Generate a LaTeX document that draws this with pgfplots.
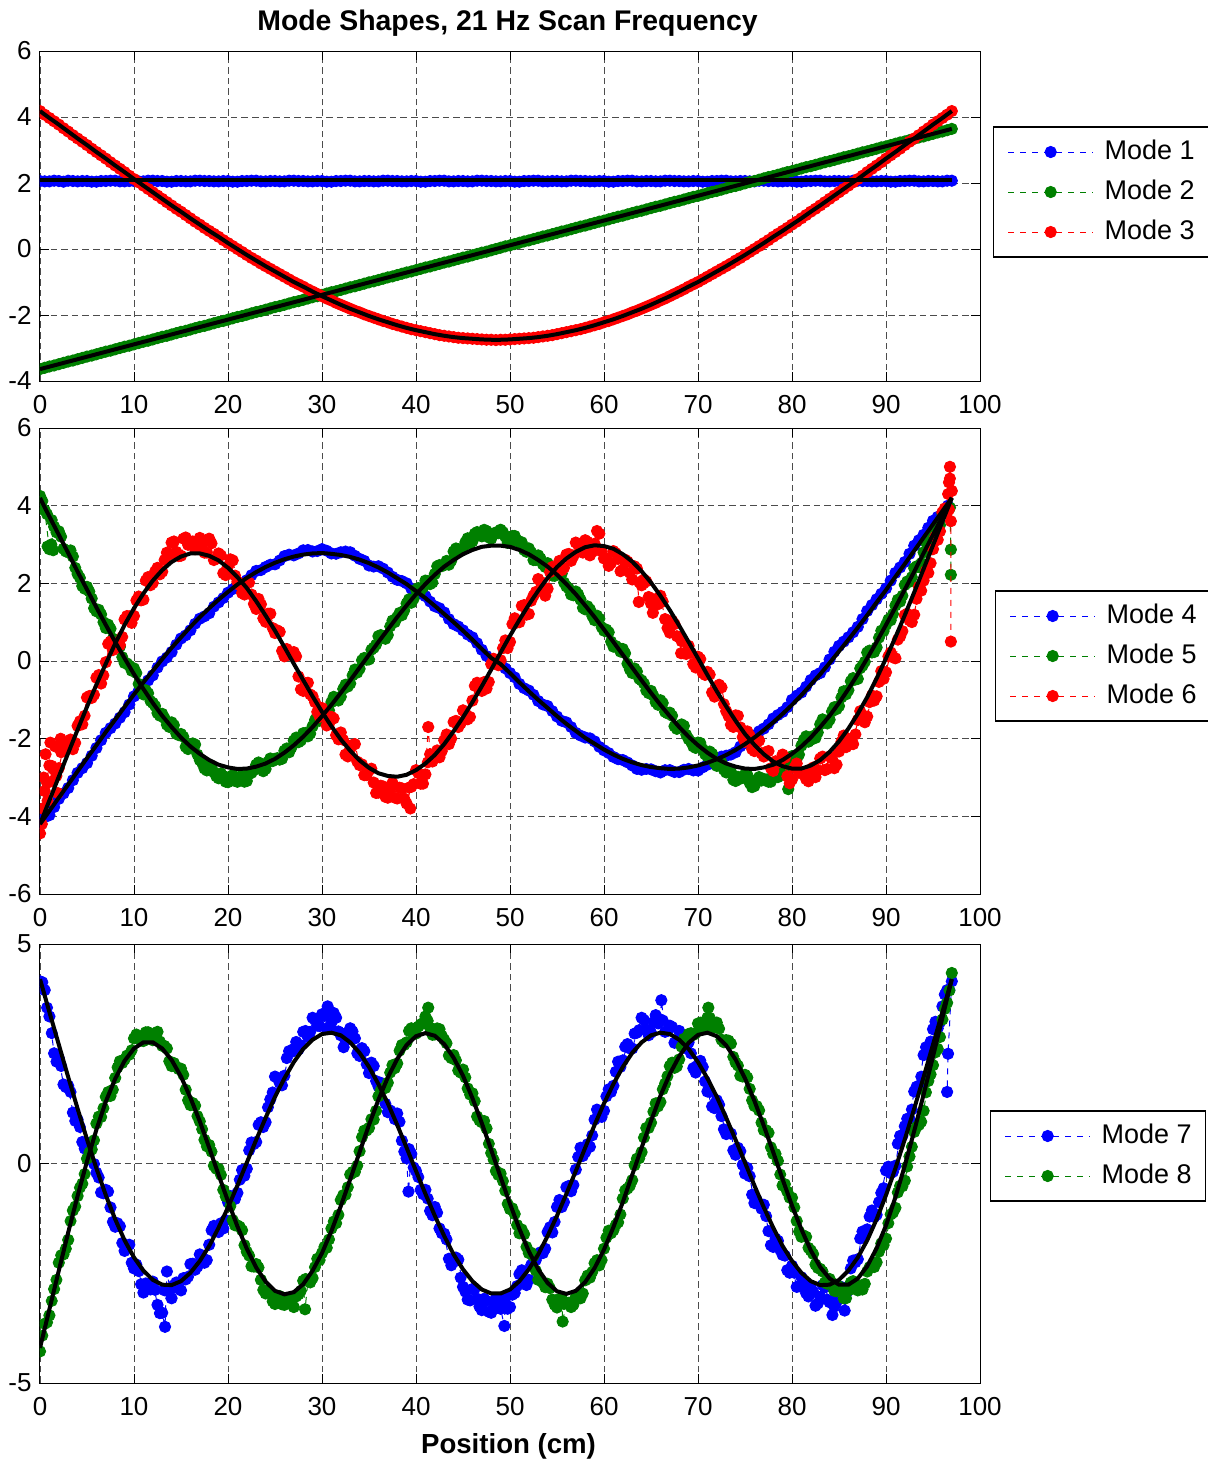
\documentclass[border=0pt]{standalone}
\usepackage{fontspec}
\setmainfont{Liberation Sans}
\usepackage{pgfplots}
\pgfplotsset{compat=1.18}
\definecolor{mblue}{rgb}{0,0,1}
\definecolor{mgreen}{rgb}{0,0.5,0}
\definecolor{mred}{rgb}{1,0,0}
\newcommand{\tickfont}{\fontsize{13}{15}\selectfont}
\newcommand{\legfont}{\fontsize{13.5}{16}\selectfont}
\pgfplotsset{
  mstyle/.style={
    scale only axis, width=470pt,
    xmin=0, xmax=100,
    xtick={0,10,...,100},
    xticklabels={0,10,20,30,40,50,60,70,80,90,100},
    grid=major,
    major grid style={black!70, line width=0.45pt, dash pattern=on 3.3pt off 2pt},
    axis line style={black, line width=0.5pt},
    major tick length=4.7pt,
    tick style={black, line width=0.5pt},
    tick align=inside,
    clip marker paths=true,
    every axis title shift=0pt,
    tick label style={font=\tickfont, inner sep=0pt},
    xticklabel style={anchor=north, yshift=-7pt},
    yticklabel style={anchor=east, xshift=-4pt},
    legend cell align=left,
    legend style={draw=black, line width=0.7pt, fill=white, font=\legfont,
       inner xsep=7pt, inner ysep=5.75pt, row sep=6.5pt, column sep=5.5pt,
       nodes={inner sep=0pt, text height=10.5pt, text depth=3pt}},
    legend image code/.code={\draw[##1, mark repeat=2, mark phase=2] plot coordinates {(0pt,0pt) (21.25pt,0pt) (42.5pt,0pt)};},
  },
  dat/.style={color=#1, mark=*, mark size=2.8pt, mark options={solid, fill=#1, draw=#1}, line width=0.5pt, dash pattern=on 3pt off 3pt},
  mids/.style={color=#1, only marks, mark=*, mark size=2.8pt, mark options={solid, fill=#1, draw=#1}, forget plot},
  fit/.style={black, line width=2pt, no marks, forget plot},
}
\begin{document}
\begin{tikzpicture}
\useasboundingbox (0,0) rectangle (603.5pt,-730.5pt);
% ---------------- top axis ----------------
\begin{axis}[mstyle, at={(20pt,-190.5pt)}, anchor=south west, height=165pt,
  ymin=-4, ymax=6, ytick={-4,-2,0,2,4,6}, yticklabels={-4,-2,0,2,4,6},
  title={Mode Shapes, 21 Hz Scan Frequency},
  title style={font=\bfseries\fontsize{14.2}{16}\selectfont, at={(axis description cs:0.5,1)}, anchor=base, yshift=10.5pt, xshift=-1.25pt, inner sep=0pt},
  legend style={at={(1.01383,0.5727)}, anchor=west}]
\addplot[dat=mblue] coordinates {(0,2.06)(0.5,2.05)(1,2.05)(1.5,2.07)(2,2.06)(2.5,2.04)(3,2.07)(3.5,2.06)(4,2.05)(4.5,2.06)(5,2.06)(5.5,2.04)(6,2.04)(6.5,2.06)(7,2.06)(7.5,2.07)(8,2.07)(8.5,2.05)(9,2.05)(9.5,2.06)(10,2.06)(10.5,2.05)(11,2.05)(11.5,2.07)(12,2.07)(12.5,2.06)(13,2.06)(13.5,2.04)(14,2.04)(14.5,2.06)(15,2.06)(15.5,2.05)(16,2.05)(16.5,2.07)(17,2.07)(17.5,2.06)(18,2.06)(18.5,2.05)(19,2.05)(19.5,2.06)(20,2.06)(20.5,2.04)(21,2.04)(21.5,2.06)(22,2.06)(22.5,2.07)(23,2.07)(23.5,2.05)(24,2.05)(24.5,2.06)(25,2.06)(25.5,2.05)(26,2.05)(26.5,2.07)(27,2.07)(27.5,2.06)(28,2.06)(28.5,2.05)(29,2.05)(29.5,2.06)(30,2.06)(30.5,2.04)(31,2.04)(31.5,2.06)(32,2.06)(32.5,2.07)(33,2.07)(33.5,2.05)(34,2.05)(34.5,2.06)(35,2.06)(35.5,2.05)(36,2.05)(36.5,2.07)(37,2.07)(37.5,2.06)(38,2.06)(38.5,2.05)(39,2.05)(39.5,2.06)(40,2.06)(40.5,2.04)(41,2.04)(41.5,2.06)(42,2.06)(42.5,2.07)(43,2.07)(43.5,2.05)(44,2.05)(44.5,2.06)(45,2.06)(45.5,2.05)(46,2.05)(46.5,2.07)(47,2.07)(47.5,2.06)(48,2.06)(48.5,2.05)(49,2.05)(49.5,2.06)(50,2.06)(50.5,2.04)(51,2.04)(51.5,2.06)(52,2.06)(52.5,2.07)(53,2.07)(53.5,2.05)(54,2.05)(54.5,2.06)(55,2.06)(55.5,2.05)(56,2.05)(56.5,2.07)(57,2.07)(57.5,2.06)(58,2.06)(58.5,2.05)(59,2.05)(59.5,2.06)(60,2.06)(60.5,2.04)(61,2.04)(61.5,2.06)(62,2.06)(62.5,2.07)(63,2.07)(63.5,2.05)(64,2.05)(64.5,2.06)(65,2.06)(65.5,2.05)(66,2.05)(66.5,2.07)(67,2.07)(67.5,2.06)(68,2.06)(68.5,2.05)(69,2.05)(69.5,2.06)(70,2.06)(70.5,2.04)(71,2.04)(71.5,2.06)(72,2.06)(72.5,2.07)(73,2.07)(73.5,2.05)(74,2.05)(74.5,2.06)(75,2.06)(75.5,2.05)(76,2.05)(76.5,2.07)(77,2.07)(77.5,2.06)(78,2.06)(78.5,2.05)(79,2.05)(79.5,2.06)(80,2.06)(80.5,2.04)(81,2.04)(81.5,2.06)(82,2.06)(82.5,2.07)(83,2.07)(83.5,2.05)(84,2.05)(84.5,2.06)(85,2.06)(85.5,2.05)(86,2.05)(86.5,2.07)(87,2.07)(87.5,2.06)(88,2.06)(88.5,2.05)(89,2.05)(89.5,2.06)(90,2.06)(90.5,2.04)(91,2.04)(91.5,2.06)(92,2.06)(92.5,2.07)(93,2.07)(93.5,2.05)(94,2.05)(94.5,2.06)(95,2.06)(95.5,2.05)(96,2.05)(96.5,2.07)(97,2.07)};
\addplot[dat=mgreen] coordinates {(0,-3.64)(0.5,-3.60)(1,-3.56)(1.5,-3.53)(2,-3.49)(2.5,-3.45)(3,-3.41)(3.5,-3.38)(4,-3.34)(4.5,-3.30)(5,-3.26)(5.5,-3.23)(6,-3.19)(6.5,-3.15)(7,-3.11)(7.5,-3.08)(8,-3.04)(8.5,-3.00)(9,-2.96)(9.5,-2.93)(10,-2.89)(10.5,-2.85)(11,-2.81)(11.5,-2.78)(12,-2.74)(12.5,-2.70)(13,-2.66)(13.5,-2.63)(14,-2.59)(14.5,-2.55)(15,-2.51)(15.5,-2.48)(16,-2.44)(16.5,-2.40)(17,-2.36)(17.5,-2.33)(18,-2.29)(18.5,-2.25)(19,-2.21)(19.5,-2.18)(20,-2.14)(20.5,-2.10)(21,-2.06)(21.5,-2.03)(22,-1.99)(22.5,-1.95)(23,-1.91)(23.5,-1.88)(24,-1.84)(24.5,-1.80)(25,-1.76)(25.5,-1.73)(26,-1.69)(26.5,-1.65)(27,-1.61)(27.5,-1.58)(28,-1.54)(28.5,-1.50)(29,-1.46)(29.5,-1.43)(30,-1.39)(30.5,-1.35)(31,-1.31)(31.5,-1.28)(32,-1.24)(32.5,-1.20)(33,-1.16)(33.5,-1.13)(34,-1.09)(34.5,-1.05)(35,-1.01)(35.5,-0.98)(36,-0.94)(36.5,-0.90)(37,-0.86)(37.5,-0.83)(38,-0.79)(38.5,-0.75)(39,-0.71)(39.5,-0.68)(40,-0.64)(40.5,-0.60)(41,-0.56)(41.5,-0.53)(42,-0.49)(42.5,-0.45)(43,-0.41)(43.5,-0.38)(44,-0.34)(44.5,-0.30)(45,-0.26)(45.5,-0.23)(46,-0.19)(46.5,-0.15)(47,-0.11)(47.5,-0.08)(48,-0.04)(48.5,0.00)(49,0.04)(49.5,0.08)(50,0.11)(50.5,0.15)(51,0.19)(51.5,0.23)(52,0.26)(52.5,0.30)(53,0.34)(53.5,0.38)(54,0.41)(54.5,0.45)(55,0.49)(55.5,0.53)(56,0.56)(56.5,0.60)(57,0.64)(57.5,0.68)(58,0.71)(58.5,0.75)(59,0.79)(59.5,0.83)(60,0.86)(60.5,0.90)(61,0.94)(61.5,0.98)(62,1.01)(62.5,1.05)(63,1.09)(63.5,1.13)(64,1.16)(64.5,1.20)(65,1.24)(65.5,1.28)(66,1.31)(66.5,1.35)(67,1.39)(67.5,1.43)(68,1.46)(68.5,1.50)(69,1.54)(69.5,1.58)(70,1.61)(70.5,1.65)(71,1.69)(71.5,1.73)(72,1.76)(72.5,1.80)(73,1.84)(73.5,1.88)(74,1.91)(74.5,1.95)(75,1.99)(75.5,2.03)(76,2.06)(76.5,2.10)(77,2.14)(77.5,2.18)(78,2.21)(78.5,2.25)(79,2.29)(79.5,2.33)(80,2.36)(80.5,2.40)(81,2.44)(81.5,2.48)(82,2.51)(82.5,2.55)(83,2.59)(83.5,2.63)(84,2.66)(84.5,2.70)(85,2.74)(85.5,2.78)(86,2.81)(86.5,2.85)(87,2.89)(87.5,2.93)(88,2.96)(88.5,3.00)(89,3.04)(89.5,3.08)(90,3.11)(90.5,3.15)(91,3.19)(91.5,3.23)(92,3.26)(92.5,3.30)(93,3.34)(93.5,3.38)(94,3.41)(94.5,3.45)(95,3.49)(95.5,3.53)(96,3.56)(96.5,3.60)(97,3.64)};
\addplot[dat=mred] coordinates {(0,4.18)(0.5,4.07)(1,3.97)(1.5,3.87)(2,3.77)(2.5,3.66)(3,3.56)(3.5,3.45)(4,3.35)(4.5,3.25)(5,3.15)(5.5,3.04)(6,2.94)(6.5,2.84)(7,2.74)(7.5,2.63)(8,2.53)(8.5,2.43)(9,2.33)(9.5,2.22)(10,2.12)(10.5,2.02)(11,1.92)(11.5,1.82)(12,1.72)(12.5,1.62)(13,1.52)(13.5,1.42)(14,1.32)(14.5,1.22)(15,1.13)(15.5,1.03)(16,0.93)(16.5,0.83)(17,0.74)(17.5,0.64)(18,0.55)(18.5,0.46)(19,0.37)(19.5,0.27)(20,0.18)(20.5,0.09)(21,0.00)(21.5,-0.09)(22,-0.18)(22.5,-0.27)(23,-0.35)(23.5,-0.44)(24,-0.52)(24.5,-0.60)(25,-0.68)(25.5,-0.76)(26,-0.84)(26.5,-0.92)(27,-1.00)(27.5,-1.07)(28,-1.14)(28.5,-1.22)(29,-1.29)(29.5,-1.36)(30,-1.43)(30.5,-1.50)(31,-1.56)(31.5,-1.63)(32,-1.69)(32.5,-1.75)(33,-1.81)(33.5,-1.87)(34,-1.92)(34.5,-1.98)(35,-2.03)(35.5,-2.08)(36,-2.13)(36.5,-2.18)(37,-2.22)(37.5,-2.27)(38,-2.31)(38.5,-2.35)(39,-2.39)(39.5,-2.43)(40,-2.46)(40.5,-2.49)(41,-2.52)(41.5,-2.55)(42,-2.58)(42.5,-2.61)(43,-2.63)(43.5,-2.65)(44,-2.67)(44.5,-2.69)(45,-2.70)(45.5,-2.71)(46,-2.72)(46.5,-2.73)(47,-2.74)(47.5,-2.75)(48,-2.75)(48.5,-2.76)(49,-2.75)(49.5,-2.75)(50,-2.74)(50.5,-2.73)(51,-2.72)(51.5,-2.71)(52,-2.70)(52.5,-2.69)(53,-2.67)(53.5,-2.65)(54,-2.63)(54.5,-2.61)(55,-2.58)(55.5,-2.55)(56,-2.52)(56.5,-2.49)(57,-2.46)(57.5,-2.43)(58,-2.39)(58.5,-2.35)(59,-2.31)(59.5,-2.27)(60,-2.22)(60.5,-2.18)(61,-2.13)(61.5,-2.08)(62,-2.03)(62.5,-1.98)(63,-1.92)(63.5,-1.87)(64,-1.81)(64.5,-1.75)(65,-1.69)(65.5,-1.63)(66,-1.56)(66.5,-1.50)(67,-1.43)(67.5,-1.36)(68,-1.29)(68.5,-1.22)(69,-1.14)(69.5,-1.07)(70,-1.00)(70.5,-0.92)(71,-0.84)(71.5,-0.76)(72,-0.68)(72.5,-0.60)(73,-0.52)(73.5,-0.44)(74,-0.35)(74.5,-0.27)(75,-0.18)(75.5,-0.09)(76,0.00)(76.5,0.09)(77,0.18)(77.5,0.27)(78,0.37)(78.5,0.46)(79,0.55)(79.5,0.64)(80,0.74)(80.5,0.83)(81,0.93)(81.5,1.03)(82,1.13)(82.5,1.22)(83,1.32)(83.5,1.42)(84,1.52)(84.5,1.62)(85,1.72)(85.5,1.82)(86,1.92)(86.5,2.02)(87,2.12)(87.5,2.22)(88,2.33)(88.5,2.43)(89,2.53)(89.5,2.63)(90,2.74)(90.5,2.84)(91,2.94)(91.5,3.04)(92,3.15)(92.5,3.25)(93,3.35)(93.5,3.45)(94,3.56)(94.5,3.66)(95,3.77)(95.5,3.87)(96,3.97)(96.5,4.07)(97,4.18)};
\addplot[fit] coordinates {(0,2.1)(97,2.1)};
\addplot[fit] coordinates {(0,-3.64)(97,3.64)};
\addplot[fit] coordinates {(0,4.18)(1,3.97)(2,3.77)(3,3.56)(4,3.35)(5,3.15)(6,2.94)(7,2.74)(8,2.53)(9,2.33)(10,2.12)(11,1.92)(12,1.72)(13,1.52)(14,1.32)(15,1.13)(16,0.93)(17,0.74)(18,0.55)(19,0.37)(20,0.18)(21,0.00)(22,-0.18)(23,-0.35)(24,-0.52)(25,-0.68)(26,-0.84)(27,-1.00)(28,-1.14)(29,-1.29)(30,-1.43)(31,-1.56)(32,-1.69)(33,-1.81)(34,-1.92)(35,-2.03)(36,-2.13)(37,-2.22)(38,-2.31)(39,-2.39)(40,-2.46)(41,-2.52)(42,-2.58)(43,-2.63)(44,-2.67)(45,-2.70)(46,-2.72)(47,-2.74)(48,-2.75)(49,-2.75)(50,-2.74)(51,-2.72)(52,-2.70)(53,-2.67)(54,-2.63)(55,-2.58)(56,-2.52)(57,-2.46)(58,-2.39)(59,-2.31)(60,-2.22)(61,-2.13)(62,-2.03)(63,-1.92)(64,-1.81)(65,-1.69)(66,-1.56)(67,-1.43)(68,-1.29)(69,-1.14)(70,-1.00)(71,-0.84)(72,-0.68)(73,-0.52)(74,-0.35)(75,-0.18)(76,0.00)(77,0.18)(78,0.37)(79,0.55)(80,0.74)(81,0.93)(82,1.13)(83,1.32)(84,1.52)(85,1.72)(86,1.92)(87,2.12)(88,2.33)(89,2.53)(90,2.74)(91,2.94)(92,3.15)(93,3.35)(94,3.56)(95,3.77)(96,3.97)(97,4.18)};
\legend{Mode 1,Mode 2,Mode 3}
\end{axis}
% ---------------- middle axis ----------------
\begin{axis}[mstyle, at={(20pt,-447pt)}, anchor=south west, height=233pt,
  ymin=-6, ymax=6, ytick={-6,-4,-2,0,2,4,6}, yticklabels={-6,-4,-2,0,2,4,6},
  legend style={at={(1.01596,0.5107)}, anchor=west}]
\addplot[mids=mblue] coordinates {(12.5,-0.17)(13.5,0.09)(14.5,0.42)(15.5,0.66)(16.5,0.96)(17.5,1.15)(18.5,1.40)(19.5,1.62)(20.5,1.85)(21.5,1.97)(22.5,2.21)(23.5,2.34)(24.5,2.48)(25.5,2.59)(26.5,2.74)(27.5,2.77)(28.5,2.86)(29.5,2.83)(30.5,2.84)(31.5,2.76)(32.5,2.82)(33.5,2.71)(34.5,2.58)(35.5,2.43)(36.5,2.38)(37.5,2.17)(38.5,2.06)(39.5,1.86)(40.5,1.74)(41.5,1.53)(42.5,1.36)(43.5,1.08)(44.5,0.89)(45.5,0.68)(46.5,0.46)(47.5,0.13)(48.5,0.00)(49.5,-0.19)(50.5,-0.42)(51.5,-0.70)(52.5,-0.87)(53.5,-1.12)(54.5,-1.29)(55.5,-1.54)(56.5,-1.70)(57.5,-1.92)(58.5,-1.99)(59.5,-2.21)(60.5,-2.37)(61.5,-2.53)(62.5,-2.61)(63.5,-2.78)(64.5,-2.78)(65.5,-2.84)(66.5,-2.81)(67.5,-2.86)(68.5,-2.80)(69.5,-2.82)(70.5,-2.74)(71.5,-2.62)(72.5,-2.46)(73.5,-2.41)(74.5,-2.20)(75.5,-2.04)(76.5,-1.81)(77.5,-1.63)(78.5,-1.39)(79.5,-1.19)(80.5,-0.89)(81.5,-0.66)(82.5,-0.37)(83.5,-0.16)(84.5,0.24)};
\addplot[dat=mblue] coordinates {(0,-4.18)(0.5,-4.02)(1,-3.97)(1.5,-3.76)(2,-3.55)(2.5,-3.41)(3,-3.27)(3.5,-3.07)(4,-2.88)(4.5,-2.76)(5,-2.63)(5.5,-2.44)(6,-2.24)(6.5,-2.04)(7,-1.85)(7.5,-1.73)(8,-1.61)(8.5,-1.46)(9,-1.32)(9.5,-1.12)(10,-0.91)(10.5,-0.77)(11,-0.63)(11.5,-0.50)(12,-0.37)(13,-0.01)(14,0.23)(15,0.58)(16,0.79)(17,1.09)(18,1.23)(19,1.51)(20,1.76)(21,1.90)(22,2.08)(23,2.32)(24,2.42)(25,2.49)(26,2.70)(27,2.72)(28,2.85)(29,2.82)(30,2.88)(31,2.77)(32,2.80)(33,2.80)(34,2.63)(35,2.46)(36,2.44)(37,2.28)(38,2.09)(39,2.00)(40,1.77)(41,1.67)(42,1.41)(43,1.25)(44,0.95)(45,0.79)(46,0.61)(47,0.29)(48,0.02)(49,-0.05)(50,-0.31)(51,-0.59)(52,-0.76)(53,-1.03)(54,-1.16)(55,-1.43)(56,-1.58)(57,-1.85)(58,-1.97)(59,-2.07)(60,-2.30)(61,-2.47)(62,-2.55)(63,-2.69)(64,-2.80)(65,-2.79)(66,-2.87)(67,-2.81)(68,-2.86)(69,-2.78)(70,-2.82)(71,-2.67)(72,-2.51)(73,-2.44)(74,-2.35)(75,-2.11)(76,-1.92)(77,-1.74)(78,-1.48)(79,-1.31)(80,-1.00)(81,-0.81)(82,-0.49)(83,-0.31)(84,0.04)(85,0.39)(85.5,0.50)(86,0.61)(86.5,0.74)(87,0.88)(87.5,1.08)(88,1.29)(88.5,1.44)(89,1.59)(89.5,1.73)(90,1.87)(90.5,2.07)(91,2.27)(91.5,2.41)(92,2.55)(92.5,2.76)(93,2.97)(93.5,3.11)(94,3.25)(94.5,3.43)(95,3.61)(95.5,3.71)(96,3.81)(96.6,4.00)};
\addplot[mids=mgreen] coordinates {(0.25,4.12)(0.75,3.78)(0.8,2.95)(1.25,3.63)(1.4,2.85)(1.75,3.31)(2.25,3.20)(2.75,2.82)(3.25,2.85)(3.75,2.40)(4.25,2.14)(4.75,1.86)(5.25,1.79)(5.75,1.36)(6.25,1.32)(6.75,1.00)(7.25,0.94)(7.75,0.58)(8.25,0.47)(8.75,0.10)(9.25,-0.06)(9.75,-0.25)(10.25,-0.31)(10.75,-0.76)(11.25,-0.75)(11.75,-1.03)(12.25,-1.16)(12.75,-1.41)(13.25,-1.47)(13.75,-1.70)(14.25,-1.65)(14.75,-1.91)(15.25,-1.95)(15.75,-2.27)(16.25,-2.12)(16.75,-2.41)(17.25,-2.63)(17.75,-2.82)(18.25,-2.69)(18.75,-2.97)(19.25,-2.89)(19.75,-3.11)(20.25,-2.98)(20.75,-3.09)(21.25,-3.00)(21.75,-3.11)(22.25,-2.91)(22.75,-2.81)(23.25,-2.61)(23.75,-2.84)(24.25,-2.60)(24.75,-2.58)(25.25,-2.50)(25.75,-2.52)(26.25,-2.25)(26.75,-2.23)(27.25,-1.97)(27.75,-2.05)(28.25,-1.85)(28.75,-1.87)(29.25,-1.52)(29.75,-1.54)(30.25,-1.37)(30.75,-1.27)(31.25,-0.92)(31.75,-1.02)(32.25,-0.72)(32.75,-0.66)(33.25,-0.37)(33.75,-0.30)(34.25,0.02)(34.75,0.03)(35.25,0.29)(35.75,0.42)(36.25,0.67)(36.75,0.57)(37.25,0.89)(37.75,1.00)(38.25,1.24)(38.75,1.30)(39.25,1.59)(39.75,1.60)(40.25,1.88)(40.75,1.89)(41.25,2.06)(41.75,2.02)(42.25,2.44)(42.75,2.44)(43.25,2.58)(43.75,2.58)(44.25,2.90)(44.75,2.83)(45.25,3.06)(45.75,3.03)(46.25,3.28)(46.75,3.24)(47.25,3.38)(47.75,3.18)(48.25,3.28)(48.75,3.29)(49.25,3.32)(49.75,3.04)(50.25,3.22)(50.75,3.11)(51.25,3.06)(51.75,2.81)(52.25,2.80)(52.75,2.60)(53.25,2.64)(53.75,2.42)(54.25,2.44)(54.75,2.19)(55.25,2.35)(55.75,2.02)(56.25,1.87)(56.75,1.69)(57.25,1.72)(57.75,1.37)(58.25,1.41)(58.75,1.16)(59.25,1.17)(59.75,0.87)(60.25,0.81)(60.75,0.50)(61.25,0.39)(61.75,0.24)(62.25,0.20)(62.75,-0.22)(63.25,-0.19)(63.75,-0.46)(64.25,-0.58)(64.75,-0.83)(65.25,-0.89)(65.75,-1.13)(66.25,-1.08)(66.75,-1.35)(67.25,-1.41)(67.75,-1.75)(68.25,-1.63)(68.75,-1.90)(69.25,-2.08)(69.75,-2.24)(70.25,-2.11)(70.75,-2.40)(71.25,-2.33)(71.75,-2.62)(72.25,-2.61)(72.75,-2.80)(73.25,-2.83)(73.75,-3.06)(74.25,-2.98)(74.75,-3.01)(75.25,-2.93)(75.75,-3.25)(76.25,-3.06)(76.75,-3.08)(77.25,-3.05)(77.75,-3.11)(78.25,-2.88)(78.75,-2.87)(79.25,-2.60)(79.75,-2.65)(80.25,-2.44)(80.75,-2.41)(81.25,-2.03)(81.75,-2.08)(82.25,-1.93)(82.75,-1.84)(83.25,-1.50)(83.75,-1.61)(84.25,-1.30)(84.75,-1.24)(85.25,-0.94)(85.75,-0.86)(86.25,-0.52)(86.75,-0.48)(87.25,-0.19)(87.75,-0.02)(88.25,0.27)(88.75,0.23)(89.25,0.60)(89.75,0.77)(90.25,1.07)(90.75,1.21)(91.25,1.58)(91.75,1.68)(92.25,2.05)(92.75,2.16)(93.25,2.44)(93.75,2.52)(94.25,3.06)(94.75,3.15)(95.25,3.37)(95.75,3.50)(96.25,3.87)};
\addplot[dat=mgreen] coordinates {(0,4.25)(0.5,3.88)(1,2.88)(1.2,3.0)(1.5,3.46)(2,3.34)(2.5,2.89)(3,2.80)(3.5,2.69)(4,2.24)(4.5,1.93)(5,1.91)(5.5,1.61)(6,1.28)(6.5,1.20)(7,0.85)(7.5,0.83)(8,0.46)(8.5,0.37)(9,-0.05)(9.5,-0.12)(10,-0.19)(10.5,-0.59)(11,-0.86)(11.5,-0.83)(12,-1.08)(12.5,-1.34)(13,-1.36)(13.5,-1.64)(14,-1.58)(14.5,-1.87)(15,-1.88)(15.5,-2.21)(16,-2.18)(16.5,-2.15)(17,-2.55)(17.5,-2.77)(18,-2.68)(18.5,-2.86)(19,-3.02)(19.5,-2.96)(20,-3.12)(20.5,-2.94)(21,-3.11)(21.5,-2.94)(22,-3.09)(22.5,-2.88)(23,-2.67)(23.5,-2.75)(24,-2.78)(24.5,-2.51)(25,-2.52)(25.5,-2.54)(26,-2.31)(26.5,-2.35)(27,-2.05)(27.5,-2.09)(28,-1.86)(28.5,-1.94)(29,-1.68)(29.5,-1.41)(30,-1.48)(30.5,-1.42)(31,-1.06)(31.5,-0.98)(32,-0.92)(32.5,-0.61)(33,-0.58)(33.5,-0.22)(34,-0.20)(34.5,0.08)(35,0.04)(35.5,0.34)(36,0.64)(36.5,0.59)(37,0.67)(37.5,1.04)(38,1.13)(38.5,1.18)(39,1.48)(39.5,1.50)(40,1.84)(40.5,1.82)(41,2.07)(41.5,1.98)(42,2.24)(42.5,2.47)(43,2.47)(43.5,2.48)(44,2.82)(44.5,2.88)(45,2.90)(45.5,3.16)(46,3.08)(46.5,3.32)(47,3.21)(47.5,3.35)(48,3.15)(48.5,3.31)(49,3.38)(49.5,3.20)(50,3.05)(50.5,3.22)(51,3.06)(51.5,2.86)(52,2.90)(52.5,2.60)(53,2.72)(53.5,2.49)(54,2.52)(54.5,2.20)(55,2.24)(55.5,2.25)(56,1.92)(56.5,1.71)(57,1.79)(57.5,1.58)(58,1.33)(58.5,1.33)(59,1.05)(59.5,1.09)(60,0.78)(60.5,0.74)(61,0.37)(61.5,0.34)(62,0.31)(62.5,-0.07)(63,-0.31)(63.5,-0.27)(64,-0.50)(64.5,-0.76)(65,-0.77)(65.5,-1.06)(66,-1.01)(66.5,-1.31)(67,-1.33)(67.5,-1.68)(68,-1.68)(68.5,-1.67)(69,-2.01)(69.5,-2.20)(70,-2.10)(70.5,-2.27)(71,-2.46)(71.5,-2.39)(72,-2.70)(72.5,-2.61)(73,-2.87)(73.5,-2.85)(74,-3.09)(74.5,-3.03)(75,-2.92)(75.5,-3.14)(76,-3.22)(76.5,-2.99)(77,-3.04)(77.5,-3.11)(78,-2.92)(78.5,-2.99)(79,-2.68)(79.5,-2.71)(79.6,-3.30)(80,-2.45)(80.5,-2.52)(81,-2.18)(81.5,-1.94)(82,-2.03)(82.5,-1.98)(83,-1.63)(83.5,-1.56)(84,-1.51)(84.5,-1.19)(85,-1.16)(85.5,-0.78)(86,-0.75)(86.5,-0.44)(87,-0.46)(87.5,-0.12)(88,0.22)(88.5,0.22)(89,0.35)(89.5,0.78)(90,0.93)(90.5,1.05)(91,1.43)(91.5,1.53)(92,1.96)(92.5,2.04)(93,2.39)(93.5,2.42)(94,2.80)(94.5,3.16)(95,3.19)(95.5,3.35)(96,3.79)(96.5,3.85)(96.8,3.95)(96.9,2.87)(96.9,2.22)};
\addplot[mids=mred] coordinates {(0.2,-4.2)(0.4,-3.0)(0.6,-2.4)(0.8,-3.6)(1.1,-2.1)(1.3,-3.1)(1.6,-2.2)(1.9,-3.4)(2.2,-2.0)(0.25,-3.80)(0.75,-3.14)(1.25,-2.70)(1.75,-2.96)(2.25,-2.35)(2.75,-2.26)(3.25,-2.02)(3.75,-2.11)(4.25,-1.55)(4.75,-1.41)(5.25,-0.90)(5.75,-0.87)(6.25,-0.36)(6.75,-0.37)(7.25,0.44)(7.75,0.28)(8.25,0.47)(8.75,0.62)(9.25,1.16)(9.75,0.98)(10.25,1.56)(10.75,1.56)(11.25,2.07)(11.75,1.95)(12.25,2.31)(12.75,2.23)(13.25,2.60)(13.75,2.74)(14.25,3.08)(14.75,2.70)(15.25,3.15)(15.75,2.99)(16.25,3.08)(16.75,2.91)(17.25,3.03)(17.75,2.79)(18.25,3.03)(18.75,2.63)(19.25,2.72)(19.75,2.21)(20.25,2.62)(20.75,2.20)(21.25,1.95)(21.75,1.71)(22.25,2.02)(22.75,1.47)(23.25,1.60)(23.75,1.10)(24.25,1.22)(24.75,0.85)(25.25,0.79)(25.75,0.26)(26.25,0.31)(26.75,0.15)(27.25,0.12)(27.75,-0.73)(28.25,-0.57)(28.75,-0.86)(29.25,-1.06)(29.75,-1.44)(30.25,-1.29)(30.75,-1.61)(31.25,-1.48)(31.75,-2.02)(32.25,-2.03)(32.75,-2.46)(33.25,-2.16)(33.75,-2.59)(34.25,-2.66)(34.75,-2.94)(35.25,-2.77)(35.75,-3.40)(36.25,-3.21)(36.75,-3.50)(37.25,-3.28)(37.75,-3.52)(38.25,-3.26)(38.75,-3.54)(39.25,-3.26)(39.4,-3.80)(39.75,-3.17)(40.25,-2.89)(40.75,-3.16)(41.25,-2.61)(41.75,-2.59)(42.25,-2.30)(42.75,-2.32)(43.25,-1.89)(43.75,-2.00)(44.25,-1.54)(44.75,-1.61)(45.25,-1.34)(45.75,-1.44)(46.25,-0.64)(46.75,-0.73)(47.25,-0.54)(47.75,-0.54)(48.25,0.06)(48.75,-0.11)(49.25,0.33)(49.75,0.33)(50.25,0.95)(50.75,0.99)(51.25,1.42)(51.75,1.19)(52.25,1.55)(52.75,1.78)(53.25,2.04)(53.75,1.68)(54.25,2.29)(54.75,2.36)(55.25,2.58)(55.75,2.40)(56.25,2.76)(56.75,2.70)(57.25,2.99)(57.75,2.79)(58.25,3.07)(58.75,2.81)(59.25,3.35)(59.75,2.82)(60.25,2.65)(60.75,2.52)(61.25,2.78)(61.75,2.31)(62.25,2.61)(62.75,2.27)(63.25,2.44)(63.75,2.03)(64.25,2.10)(64.75,1.65)(65.25,1.59)(65.75,1.46)(66.25,1.53)(66.75,0.85)(67.25,1.04)(67.75,0.64)(68.25,0.51)(68.75,0.18)(69.25,0.21)(69.75,-0.17)(70.25,0.05)(70.75,-0.36)(71.25,-0.35)(71.75,-0.92)(72.25,-0.61)(72.75,-1.11)(73.25,-1.42)(73.75,-1.70)(74.25,-1.41)(74.75,-1.96)(75.25,-1.81)(75.75,-2.27)(76.25,-2.09)(76.75,-2.38)(77.25,-2.34)(77.75,-2.76)(78.25,-2.58)(78.75,-2.58)(79.25,-2.49)(79.75,-3.15)(80.25,-2.75)(80.75,-2.88)(81.25,-2.91)(81.75,-3.10)(82.25,-2.74)(82.75,-2.81)(83.25,-2.46)(83.75,-2.78)(84.25,-2.51)(84.75,-2.67)(85.25,-2.08)(85.75,-2.22)(86.25,-2.00)(86.75,-1.89)(87.25,-1.29)(87.75,-1.58)(88.25,-1.06)(88.75,-1.02)(89.25,-0.54)(89.75,-0.46)(90.25,0.12)(90.75,0.09)(91.25,0.55)(91.75,0.77)(92.25,1.22)(92.75,1.00)(93.25,1.60)(93.75,1.81)(94.25,2.32)(94.75,2.52)(95.25,3.20)(95.75,3.34)(96.25,3.93)(96.6,4.3)(96.7,3.9)(96.8,4.7)};
\addplot[dat=mred] coordinates {(0,-4.44)(0.5,-3.35)(1,-2.69)(1.5,-2.80)(2,-2.76)(2.5,-2.23)(3,-2.17)(3.5,-2.27)(4,-1.67)(4.5,-1.63)(5,-0.94)(5.5,-0.95)(6,-0.43)(6.5,-0.58)(7,-0.03)(7.5,0.50)(8,0.33)(8.5,0.41)(9,1.07)(9.5,1.15)(10,1.16)(10.5,1.66)(11,1.58)(11.5,2.16)(12,2.01)(12.5,2.40)(13,2.30)(13.5,2.79)(14,3.05)(14.5,2.81)(15,2.71)(15.5,3.18)(16,3.07)(16.5,2.88)(17,3.17)(17.5,2.79)(18,3.15)(18.5,2.60)(19,2.77)(19.5,2.26)(20,2.44)(20.5,2.59)(21,2.04)(21.5,1.75)(22,2.02)(22.5,1.71)(23,1.34)(23.5,1.46)(24,1.01)(24.5,1.22)(25,0.72)(25.5,0.75)(26,0.12)(26.5,0.19)(27,0.23)(27.5,-0.40)(28,-0.77)(28.5,-0.56)(29,-0.91)(29.5,-1.31)(30,-1.21)(30.5,-1.66)(31,-1.44)(31.5,-1.91)(32,-1.84)(32.5,-2.41)(33,-2.27)(33.5,-2.14)(34,-2.68)(34.5,-2.94)(35,-2.81)(35.5,-3.13)(36,-3.39)(36.5,-3.23)(37,-3.52)(37.5,-3.14)(38,-3.54)(38.5,-3.28)(39,-3.67)(39.5,-3.24)(40,-2.81)(40.5,-3.16)(41,-2.92)(41.3,-1.70)(41.5,-2.40)(42,-2.42)(42.5,-2.48)(43,-2.04)(43.5,-2.14)(44,-1.57)(44.5,-1.70)(45,-1.27)(45.5,-1.50)(46,-1.02)(46.5,-0.56)(47,-0.77)(47.5,-0.71)(48,-0.08)(48.5,0.00)(49,0.02)(49.5,0.53)(50,0.49)(50.5,1.10)(51,1.00)(51.5,1.44)(52,1.21)(52.5,1.68)(53,2.11)(53.5,1.86)(54,1.86)(54.5,2.42)(55,2.42)(55.5,2.34)(56,2.74)(56.5,2.58)(57,3.05)(57.5,2.82)(58,3.11)(58.5,2.72)(59,3.02)(59.5,3.28)(60,2.64)(60.5,2.45)(61,2.83)(61.5,2.63)(62,2.35)(62.5,2.56)(63,2.10)(63.5,2.38)(63.7,1.52)(64,1.95)(64.5,2.05)(65,1.48)(65.2,1.24)(65.5,1.59)(66,1.68)(66.5,1.08)(67,0.73)(67.5,0.95)(68,0.61)(68.2,0.20)(68.5,0.20)(69,0.39)(69.5,-0.08)(70,0.11)(70.5,-0.31)(71,-0.28)(71.5,-0.81)(72,-0.74)(72.5,-0.68)(73,-1.29)(73.5,-1.64)(74,-1.40)(74.5,-1.71)(75,-2.08)(75.5,-1.93)(76,-2.32)(76.5,-2.05)(77,-2.46)(77.5,-2.32)(78,-2.83)(78.5,-2.62)(79,-2.41)(79.5,-2.97)(80,-3.05)(80.5,-2.64)(81,-2.87)(81.5,-3.04)(82,-2.79)(82.5,-2.99)(83,-2.51)(83.5,-2.81)(84,-2.46)(84.5,-2.76)(85,-2.33)(85.5,-1.92)(86,-2.16)(86.5,-2.14)(87,-1.52)(87.5,-1.45)(88,-1.43)(88.5,-0.89)(89,-0.91)(89.5,-0.26)(90,-0.29)(90.5,0.22)(91,0.07)(91.5,0.63)(92,1.18)(92.5,1.05)(93,1.19)(93.5,1.91)(94,2.07)(94.5,2.27)(95,2.88)(95.5,3.12)(96,3.83)(96.5,3.83)(96.7,4.60)(96.8,5.00)(97,4.38)(96.9,3.60)(96.9,0.50)};
\addplot[fit] coordinates {(0,-4.20)(1,-3.86)(2,-3.52)(3,-3.18)(4,-2.84)(5,-2.50)(6,-2.17)(7,-1.83)(8,-1.51)(9,-1.18)(10,-0.86)(11,-0.55)(12,-0.25)(13,0.05)(14,0.34)(15,0.61)(16,0.88)(17,1.13)(18,1.36)(19,1.58)(20,1.78)(21,1.97)(22,2.14)(23,2.29)(24,2.42)(25,2.53)(26,2.62)(27,2.69)(28,2.74)(29,2.77)(30,2.78)(31,2.76)(32,2.73)(33,2.68)(34,2.61)(35,2.52)(36,2.41)(37,2.28)(38,2.13)(39,1.98)(40,1.80)(41,1.62)(42,1.42)(43,1.21)(44,1.00)(45,0.78)(46,0.55)(47,0.31)(48,0.08)(49,-0.08)(50,-0.31)(51,-0.55)(52,-0.78)(53,-1.00)(54,-1.21)(55,-1.42)(56,-1.62)(57,-1.80)(58,-1.98)(59,-2.13)(60,-2.28)(61,-2.41)(62,-2.52)(63,-2.61)(64,-2.68)(65,-2.73)(66,-2.76)(67,-2.78)(68,-2.77)(69,-2.74)(70,-2.69)(71,-2.62)(72,-2.53)(73,-2.42)(74,-2.29)(75,-2.14)(76,-1.97)(77,-1.78)(78,-1.58)(79,-1.36)(80,-1.13)(81,-0.88)(82,-0.61)(83,-0.34)(84,-0.05)(85,0.25)(86,0.55)(87,0.86)(88,1.18)(89,1.51)(90,1.83)(91,2.17)(92,2.50)(93,2.84)(94,3.18)(95,3.52)(96,3.86)(97,4.20)};
\addplot[fit] coordinates {(0,4.20)(1,3.72)(2,3.25)(3,2.78)(4,2.30)(5,1.84)(6,1.38)(7,0.93)(8,0.49)(9,0.07)(10,-0.34)(11,-0.72)(12,-1.08)(13,-1.41)(14,-1.70)(15,-1.97)(16,-2.20)(17,-2.39)(18,-2.55)(19,-2.67)(20,-2.74)(21,-2.78)(22,-2.77)(23,-2.72)(24,-2.64)(25,-2.52)(26,-2.36)(27,-2.17)(28,-1.95)(29,-1.70)(30,-1.42)(31,-1.13)(32,-0.82)(33,-0.50)(34,-0.17)(35,0.16)(36,0.49)(37,0.81)(38,1.13)(39,1.43)(40,1.72)(41,1.98)(42,2.22)(43,2.43)(44,2.60)(45,2.75)(46,2.86)(47,2.94)(48,2.97)(49,2.97)(50,2.94)(51,2.86)(52,2.75)(53,2.60)(54,2.43)(55,2.22)(56,1.98)(57,1.72)(58,1.43)(59,1.13)(60,0.81)(61,0.49)(62,0.16)(63,-0.17)(64,-0.50)(65,-0.82)(66,-1.13)(67,-1.42)(68,-1.70)(69,-1.95)(70,-2.17)(71,-2.36)(72,-2.52)(73,-2.64)(74,-2.72)(75,-2.77)(76,-2.78)(77,-2.74)(78,-2.67)(79,-2.55)(80,-2.39)(81,-2.20)(82,-1.97)(83,-1.70)(84,-1.41)(85,-1.08)(86,-0.72)(87,-0.34)(88,0.07)(89,0.49)(90,0.93)(91,1.38)(92,1.84)(93,2.30)(94,2.78)(95,3.25)(96,3.72)(97,4.20)};
\addplot[fit] coordinates {(0,-4.20)(1,-3.59)(2,-2.98)(3,-2.37)(4,-1.77)(5,-1.18)(6,-0.61)(7,-0.07)(8,0.45)(9,0.93)(10,1.36)(11,1.74)(12,2.07)(13,2.34)(14,2.55)(15,2.69)(16,2.77)(17,2.77)(18,2.71)(19,2.59)(20,2.40)(21,2.16)(22,1.88)(23,1.54)(24,1.17)(25,0.78)(26,0.36)(27,-0.07)(28,-0.49)(29,-0.91)(30,-1.31)(31,-1.68)(32,-2.02)(33,-2.31)(34,-2.56)(35,-2.75)(36,-2.89)(37,-2.96)(38,-2.98)(39,-2.93)(40,-2.81)(41,-2.64)(42,-2.42)(43,-2.14)(44,-1.81)(45,-1.45)(46,-1.06)(47,-0.65)(48,-0.22)(49,0.22)(50,0.65)(51,1.06)(52,1.45)(53,1.81)(54,2.14)(55,2.42)(56,2.64)(57,2.81)(58,2.93)(59,2.98)(60,2.96)(61,2.89)(62,2.75)(63,2.56)(64,2.31)(65,2.02)(66,1.68)(67,1.31)(68,0.91)(69,0.49)(70,0.07)(71,-0.36)(72,-0.78)(73,-1.17)(74,-1.54)(75,-1.88)(76,-2.16)(77,-2.40)(78,-2.59)(79,-2.71)(80,-2.77)(81,-2.77)(82,-2.69)(83,-2.55)(84,-2.34)(85,-2.07)(86,-1.74)(87,-1.36)(88,-0.93)(89,-0.45)(90,0.07)(91,0.61)(92,1.18)(93,1.77)(94,2.37)(95,2.98)(96,3.59)(97,4.20)};
\legend{Mode 4,Mode 5,Mode 6}
\end{axis}
% ---------------- bottom axis ----------------
\begin{axis}[mstyle, at={(20pt,-691.5pt)}, anchor=south west, height=219.5pt,
  ymin=-5, ymax=5, ytick={-5,0,5}, yticklabels={-5,0,5},
  xlabel={Position (cm)},
  xlabel style={font=\bfseries\fontsize{13.8}{16}\selectfont, at={(axis description cs:0.5,0)}, anchor=base, yshift=-35pt, xshift=-0.75pt, inner sep=0pt},
  legend style={at={(1.0106,0.5171)}, anchor=west}]
\addplot[mids=mblue] coordinates {(0.25,4.13)(0.75,3.55)(1.25,2.97)(1.75,2.32)(2.25,2.22)(2.75,1.74)(3.25,1.63)(3.75,0.97)(4.25,0.83)(4.75,0.34)(5.25,0.47)(5.75,-0.01)(6.25,-0.32)(6.75,-0.68)(7.25,-0.64)(7.75,-1.33)(8.25,-1.36)(8.75,-1.81)(9.25,-1.88)(9.75,-2.26)(10.25,-2.30)(10.75,-2.75)(11.25,-2.73)(11.75,-2.87)(12.25,-2.88)(12.75,-3.41)(13.25,-2.89)(13.75,-2.91)(14.25,-2.77)(14.75,-2.85)(15.25,-2.61)(15.75,-2.58)(16.25,-2.28)(16.75,-2.35)(17.25,-2.13)(17.75,-2.20)(18.25,-1.52)(18.75,-1.54)(19.25,-1.36)(19.75,-1.29)(20.25,-0.74)(20.75,-0.81)(21.25,-0.37)(21.75,-0.28)(22.25,0.30)(22.75,0.44)(23.25,0.88)(23.75,0.83)(24.25,1.28)(24.75,1.62)(25.25,1.95)(25.75,1.78)(26.25,2.40)(26.75,2.54)(27.25,2.77)(27.75,2.69)(28.25,3.02)(28.75,3.00)(29.25,3.27)(29.75,3.13)(30.25,3.36)(30.75,3.09)(31.25,3.43)(31.75,3.01)(32.25,2.95)(32.75,2.85)(33.25,3.01)(33.75,2.51)(34.25,2.63)(34.75,2.26)(35.25,2.30)(35.75,1.88)(36.25,1.84)(36.75,1.36)(37.25,1.21)(37.75,1.01)(38.25,0.95)(38.75,0.27)(39.25,0.33)(39.75,-0.09)(40.25,-0.31)(40.75,-0.70)(41.25,-0.80)(41.75,-1.18)(42.25,-1.12)(42.75,-1.59)(43.25,-1.73)(43.75,-2.32)(44.25,-2.14)(44.75,-2.60)(45.25,-2.92)(45.75,-3.12)(46.25,-2.85)(46.75,-3.26)(47.25,-3.08)(47.75,-3.38)(48.25,-3.16)(48.75,-3.29)(49.25,-3.15)(49.75,-3.31)(50.25,-2.99)(50.75,-2.79)(51.25,-2.43)(51.75,-2.77)(52.25,-2.31)(52.75,-2.20)(53.25,-2.02)(53.75,-1.94)(54.25,-1.45)(54.75,-1.33)(55.25,-0.83)(55.75,-0.88)(56.25,-0.51)(56.75,-0.49)(57.25,0.15)(57.75,0.17)(58.25,0.44)(58.75,0.64)(59.25,1.23)(59.75,1.06)(60.25,1.53)(60.75,1.63)(61.25,2.09)(61.75,2.20)(62.25,2.66)(62.75,2.62)(63.25,2.96)(63.75,3.04)(64.25,3.27)(64.75,2.92)(65.25,3.22)(65.75,3.19)(66.25,3.26)(66.75,3.02)(67.25,3.11)(67.75,2.78)(68.25,2.93)(68.75,2.62)(69.25,2.51)(69.75,2.07)(70.25,2.34)(70.75,1.87)(71.25,1.63)(71.75,1.26)(72.25,1.34)(72.75,0.78)(73.25,0.72)(73.75,0.30)(74.25,0.36)(74.75,-0.03)(75.25,-0.10)(75.75,-0.71)(76.25,-0.83)(76.75,-1.03)(77.25,-1.20)(77.75,-1.86)(78.25,-1.71)(78.75,-1.97)(79.25,-2.10)(79.75,-2.49)(80.25,-2.49)(80.75,-2.80)(81.25,-2.73)(81.75,-3.03)(82.25,-2.92)(82.75,-3.19)(83.25,-2.77)(83.75,-3.10)(84.25,-3.13)(84.75,-3.15)(85.25,-2.81)(85.75,-2.98)(86.25,-2.39)(86.75,-2.25)(87.25,-1.71)(87.75,-1.64)(88.25,-1.21)(88.75,-1.22)(89.25,-0.88)(89.75,-0.56)(90.25,-0.07)(90.75,-0.19)(91.25,0.45)(91.75,0.63)(92.25,1.02)(92.75,1.23)(93.25,1.75)(93.75,1.98)(94.25,2.65)(94.75,2.78)(95.25,3.23)(95.75,3.22)(96.25,3.85)(96.75,3.95)};
\addplot[dat=mblue] coordinates {(0,4.15)(0.5,3.95)(1,3.35)(1.5,2.51)(2,2.40)(2.5,1.80)(3,1.77)(3.5,1.16)(4,1.00)(4.5,0.49)(5,0.38)(5.5,0.47)(6,-0.21)(6.5,-0.66)(7,-0.60)(7.5,-1.00)(8,-1.44)(8.5,-1.43)(9,-1.99)(9.5,-1.85)(10,-2.39)(10.5,-2.45)(11,-2.94)(11.5,-2.83)(12,-2.69)(12.5,-3.22)(13,-3.40)(13.3,-3.72)(13.5,-2.46)(14,-3.07)(14.5,-2.71)(15,-2.89)(15.5,-2.64)(16,-2.29)(16.5,-2.42)(17,-2.07)(17.5,-2.26)(18,-1.85)(18.5,-1.42)(19,-1.56)(19.5,-1.48)(20,-0.88)(20.5,-0.75)(21,-0.67)(21.5,-0.15)(22,-0.12)(22.5,0.48)(23,0.49)(23.5,0.94)(24,0.94)(24.5,1.46)(25,1.98)(25.5,1.84)(26,2.00)(26.5,2.56)(27,2.61)(27.5,2.60)(28,3.00)(28.5,2.88)(29,3.32)(29.5,3.14)(30,3.40)(30.5,3.07)(30.6,3.58)(31,3.21)(31.5,3.32)(32,2.92)(32.3,2.65)(32.5,2.81)(33,3.08)(33.5,2.85)(34,2.45)(34.5,2.56)(35,2.06)(35.5,2.22)(36,1.76)(36.5,1.75)(37,1.17)(37.5,1.16)(38,1.14)(38.5,0.52)(39,0.12)(39.2,-0.64)(39.5,0.22)(40,-0.17)(40.5,-0.60)(41,-0.60)(41.5,-1.08)(42,-0.99)(42.5,-1.48)(43,-1.60)(43.5,-2.17)(44,-2.24)(44.5,-2.19)(45,-2.81)(45.5,-3.10)(46,-2.86)(46.5,-3.08)(47,-3.34)(47.5,-3.13)(48,-3.40)(48.5,-3.07)(49,-3.31)(49.4,-3.70)(49.5,-3.07)(50,-3.27)(50.5,-2.95)(51,-2.52)(51.5,-2.66)(52,-2.65)(52.5,-2.13)(53,-2.07)(53.5,-2.04)(54,-1.56)(54.5,-1.57)(55,-0.99)(55.5,-0.99)(56,-0.54)(56.5,-0.63)(57,-0.14)(57.5,0.36)(58,0.26)(58.5,0.38)(59,1.00)(59.5,1.13)(60,1.20)(60.5,1.69)(61,1.77)(61.5,2.32)(62,2.35)(62.5,2.72)(63,2.62)(63.5,2.98)(64,3.32)(64.5,3.05)(65,2.98)(65.5,3.38)(66,3.28)(66.1,3.72)(66.5,3.00)(67,3.14)(67.5,2.75)(68,3.02)(68.5,2.67)(69,2.76)(69.5,2.17)(70,2.24)(70.5,2.20)(71,1.64)(71.5,1.30)(72,1.44)(72.5,1.08)(73,0.67)(73.5,0.68)(74,0.20)(74.5,0.28)(75,-0.23)(75.5,-0.29)(76,-0.90)(76.5,-0.92)(77,-0.94)(77.5,-1.54)(78,-1.90)(78.5,-1.76)(79,-2.08)(79.5,-2.43)(80,-2.33)(80.5,-2.81)(81,-2.59)(81.5,-2.95)(82,-2.83)(82.5,-3.24)(83,-3.04)(83.5,-2.82)(84,-3.16)(84.3,-3.45)(84.5,-3.26)(85,-2.83)(85.5,-2.86)(85.6,-3.35)(86,-2.81)(86.5,-2.21)(87,-2.18)(87.5,-1.55)(88,-1.50)(88.5,-1.07)(89,-1.17)(89.5,-0.67)(90,-0.16)(90.5,-0.22)(91,-0.05)(91.5,0.63)(92,0.85)(92.5,1.02)(93,1.64)(93.5,1.77)(94,2.47)(94.5,2.59)(95,3.06)(95.5,3.08)(96,3.58)(96.5,3.95)(97,4.15)(96.6,2.50)(96.5,1.63)};
\addplot[mids=mgreen] coordinates {(0.25,-3.92)(0.75,-3.62)(1.25,-3.13)(1.75,-2.65)(2.25,-2.09)(2.75,-1.94)(3.25,-1.31)(3.75,-0.98)(4.25,-0.55)(4.75,-0.24)(5.25,0.25)(5.75,0.53)(6.25,1.07)(6.75,1.26)(7.25,1.63)(7.75,1.68)(8.25,2.19)(8.75,2.29)(9.25,2.46)(9.75,2.58)(10.25,2.94)(10.75,2.80)(11.25,2.99)(11.75,2.83)(12.25,2.96)(12.75,2.78)(13.25,2.68)(13.75,2.33)(14.25,2.29)(14.75,2.15)(15.25,2.02)(15.75,1.44)(16.25,1.38)(16.75,1.08)(17.25,0.78)(17.75,0.39)(18.25,0.27)(18.75,-0.12)(19.25,-0.26)(19.75,-0.75)(20.25,-0.97)(20.75,-1.41)(21.25,-1.44)(21.75,-1.86)(22.25,-2.10)(22.75,-2.35)(23.25,-2.37)(23.75,-2.88)(24.25,-2.91)(24.75,-3.14)(25.25,-3.08)(25.75,-3.21)(26.25,-3.06)(26.75,-3.20)(27.25,-3.03)(27.75,-2.90)(28.25,-2.63)(28.75,-2.71)(29.25,-2.36)(29.75,-2.20)(30.25,-1.90)(30.75,-1.73)(31.25,-1.32)(31.75,-1.17)(32.25,-0.72)(32.75,-0.54)(33.25,-0.19)(33.75,-0.05)(34.25,0.60)(34.75,0.75)(35.25,1.01)(35.75,1.20)(36.25,1.67)(36.75,1.72)(37.25,2.07)(37.75,2.17)(38.25,2.57)(38.75,2.70)(39.25,3.02)(39.75,2.95)(40.25,3.12)(40.75,3.20)(41.25,3.25)(41.75,2.93)(42.25,3.08)(42.75,2.91)(43.25,2.74)(43.75,2.40)(44.25,2.35)(44.75,2.07)(45.25,1.96)(45.75,1.57)(46.25,1.42)(46.75,0.98)(47.25,0.97)(47.75,0.45)(48.25,0.09)(48.75,-0.26)(49.25,-0.40)(49.75,-0.92)(50.25,-1.02)(50.75,-1.40)(51.25,-1.50)(51.75,-1.90)(52.25,-2.03)(52.75,-2.44)(53.25,-2.65)(53.75,-2.82)(54.25,-2.84)(54.75,-3.22)(55.25,-3.08)(55.75,-3.20)(56.25,-3.17)(56.75,-3.22)(57.25,-3.03)(57.75,-2.96)(58.25,-2.55)(58.75,-2.47)(59.25,-2.20)(59.75,-2.20)(60.25,-1.69)(60.75,-1.59)(61.25,-1.40)(61.75,-1.16)(62.25,-0.61)(62.75,-0.51)(63.25,-0.04)(63.75,0.12)(64.25,0.59)(64.75,0.81)(65.25,1.18)(65.75,1.30)(66.25,1.69)(66.75,1.99)(67.25,2.30)(67.75,2.21)(68.25,2.66)(68.75,2.84)(69.25,2.97)(69.75,2.97)(70.25,3.21)(70.75,3.17)(71.25,3.32)(71.75,3.10)(72.25,3.07)(72.75,2.76)(73.25,2.80)(73.75,2.43)(74.25,2.23)(74.75,1.98)(75.25,1.96)(75.75,1.44)(76.25,1.31)(76.75,0.93)(77.25,0.76)(77.75,0.37)(78.25,0.22)(78.75,-0.25)(79.25,-0.47)(79.75,-0.78)(80.25,-1.00)(80.75,-1.55)(81.25,-1.64)(81.75,-1.92)(82.25,-2.06)(82.75,-2.38)(83.25,-2.46)(83.75,-2.74)(84.25,-2.72)(84.75,-2.91)(85.25,-2.91)(85.75,-3.07)(86.25,-2.71)(86.75,-2.82)(87.25,-2.78)(87.75,-2.74)(88.25,-2.36)(88.75,-2.36)(89.25,-2.01)(89.75,-1.86)(90.25,-1.36)(90.75,-1.12)(91.25,-0.66)(91.75,-0.52)(92.25,-0.07)(92.75,0.38)(93.25,0.83)(93.75,0.95)(94.25,1.62)(94.75,2.03)(95.25,2.53)(95.75,2.88)(96.25,3.52)(96.75,3.94)};
\addplot[dat=mgreen] coordinates {(0,-4.28)(0.5,-3.65)(1,-3.46)(1.5,-2.86)(2,-2.26)(2.5,-2.07)(3,-1.74)(3.5,-1.07)(4,-0.74)(4.5,-0.46)(5,0.11)(5.5,0.32)(6,0.91)(6.5,1.06)(7,1.52)(7.5,1.54)(8,1.95)(8.5,2.33)(9,2.37)(9.5,2.48)(10,2.85)(10.5,2.86)(11,2.79)(11.5,2.99)(12,2.81)(12.5,3.00)(13,2.68)(13.5,2.62)(14,2.22)(14.5,2.20)(15,2.16)(15.5,1.68)(16,1.33)(16.5,1.32)(17,0.96)(17.5,0.54)(18,0.42)(18.5,-0.05)(19,-0.12)(19.5,-0.60)(20,-0.75)(20.5,-1.29)(21,-1.41)(21.5,-1.52)(22,-2.01)(22.5,-2.34)(23,-2.29)(23.5,-2.65)(24,-2.96)(24.5,-2.95)(25,-3.20)(25.5,-3.02)(26,-3.22)(26.5,-3.06)(27,-3.27)(27.5,-2.98)(28,-2.67)(28.2,-3.32)(28.5,-2.68)(29,-2.61)(29.5,-2.17)(30,-2.04)(30.5,-1.92)(31,-1.48)(31.5,-1.36)(32,-0.83)(32.5,-0.71)(33,-0.25)(33.5,-0.19)(34,0.28)(34.5,0.75)(35,0.81)(35.5,1.00)(36,1.53)(36.5,1.71)(37,1.84)(37.5,2.24)(38,2.28)(38.5,2.70)(39,2.76)(39.5,3.08)(40,2.96)(40.5,3.17)(41,3.35)(41.3,3.55)(41.5,3.09)(42,2.94)(42.5,3.06)(43,2.82)(43.5,2.46)(44,2.47)(44.5,2.12)(45,2.14)(45.5,1.71)(46,1.60)(46.5,1.07)(47,0.94)(47.5,0.80)(48,0.24)(48.5,-0.17)(49,-0.23)(49.5,-0.62)(50,-1.04)(50.5,-1.15)(51,-1.59)(51.5,-1.61)(52,-2.04)(52.5,-2.11)(53,-2.65)(53.5,-2.71)(54,-2.74)(54.5,-3.10)(55,-3.28)(55.5,-3.08)(55.6,-3.60)(56,-3.17)(56.5,-3.27)(57,-3.04)(57.5,-3.07)(58,-2.66)(58.5,-2.60)(59,-2.27)(59.5,-2.32)(60,-1.94)(60.5,-1.53)(61,-1.52)(61.5,-1.34)(62,-0.80)(62.5,-0.57)(63,-0.38)(63.5,0.11)(64,0.26)(64.5,0.81)(65,0.93)(65.5,1.37)(66,1.40)(66.5,1.82)(67,2.22)(67.5,2.18)(68,2.37)(68.5,2.84)(69,2.95)(69.5,2.93)(70,3.19)(70.5,3.07)(71,3.32)(71.1,3.55)(71.5,3.12)(72,3.21)(72.5,2.82)(73,2.81)(73.5,2.73)(74,2.30)(74.5,2.00)(75,2.02)(75.5,1.70)(76,1.31)(76.5,1.21)(77,0.76)(77.5,0.70)(78,0.22)(78.5,0.06)(79,-0.50)(79.5,-0.64)(80,-0.78)(80.5,-1.31)(81,-1.67)(81.5,-1.67)(82,-1.98)(82.5,-2.30)(83,-2.40)(83.5,-2.71)(84,-2.63)(84.5,-2.90)(85,-2.80)(85.5,-3.07)(86,-2.89)(86.5,-2.68)(87,-2.89)(87.5,-2.87)(88,-2.46)(88.5,-2.35)(89,-2.25)(89.5,-1.82)(90,-1.71)(90.5,-1.16)(91,-1.01)(91.5,-0.51)(92,-0.39)(92.5,0.16)(93,0.72)(93.5,0.88)(94,1.20)(94.5,1.88)(95,2.24)(95.5,2.61)(96,3.28)(96.5,3.66)(97,4.34)};
\addplot[fit] coordinates {(0,4.20)(1,3.45)(2,2.71)(3,1.97)(4,1.25)(5,0.55)(6,-0.11)(7,-0.72)(8,-1.27)(9,-1.75)(10,-2.14)(11,-2.44)(12,-2.65)(13,-2.76)(14,-2.77)(15,-2.68)(16,-2.49)(17,-2.22)(18,-1.88)(19,-1.46)(20,-1.00)(21,-0.50)(22,0.02)(23,0.54)(24,1.04)(25,1.52)(26,1.94)(27,2.31)(28,2.61)(29,2.82)(30,2.95)(31,2.98)(32,2.92)(33,2.76)(34,2.52)(35,2.20)(36,1.81)(37,1.37)(38,0.88)(39,0.36)(40,-0.17)(41,-0.69)(42,-1.19)(43,-1.65)(44,-2.07)(45,-2.41)(46,-2.68)(47,-2.87)(48,-2.96)(49,-2.96)(50,-2.87)(51,-2.68)(52,-2.41)(53,-2.07)(54,-1.65)(55,-1.19)(56,-0.69)(57,-0.17)(58,0.36)(59,0.88)(60,1.37)(61,1.81)(62,2.20)(63,2.52)(64,2.76)(65,2.92)(66,2.98)(67,2.95)(68,2.82)(69,2.61)(70,2.31)(71,1.94)(72,1.52)(73,1.04)(74,0.54)(75,0.02)(76,-0.50)(77,-1.00)(78,-1.46)(79,-1.88)(80,-2.22)(81,-2.49)(82,-2.68)(83,-2.77)(84,-2.76)(85,-2.65)(86,-2.44)(87,-2.14)(88,-1.75)(89,-1.27)(90,-0.72)(91,-0.11)(92,0.55)(93,1.25)(94,1.97)(95,2.71)(96,3.45)(97,4.20)};
\addplot[fit] coordinates {(0,-4.20)(1,-3.32)(2,-2.44)(3,-1.57)(4,-0.74)(5,0.05)(6,0.77)(7,1.41)(8,1.93)(9,2.34)(10,2.62)(11,2.76)(12,2.76)(13,2.62)(14,2.36)(15,1.98)(16,1.50)(17,0.96)(18,0.36)(19,-0.26)(20,-0.86)(21,-1.43)(22,-1.94)(23,-2.37)(24,-2.69)(25,-2.90)(26,-2.98)(27,-2.93)(28,-2.75)(29,-2.44)(30,-2.04)(31,-1.54)(32,-0.97)(33,-0.36)(34,0.26)(35,0.88)(36,1.45)(37,1.96)(38,2.38)(39,2.70)(40,2.90)(41,2.97)(42,2.91)(43,2.72)(44,2.41)(45,2.00)(46,1.49)(47,0.92)(48,0.31)(49,-0.31)(50,-0.92)(51,-1.49)(52,-2.00)(53,-2.41)(54,-2.72)(55,-2.91)(56,-2.97)(57,-2.90)(58,-2.70)(59,-2.38)(60,-1.96)(61,-1.45)(62,-0.88)(63,-0.26)(64,0.36)(65,0.97)(66,1.54)(67,2.04)(68,2.44)(69,2.75)(70,2.93)(71,2.98)(72,2.90)(73,2.69)(74,2.37)(75,1.94)(76,1.43)(77,0.86)(78,0.26)(79,-0.36)(80,-0.96)(81,-1.50)(82,-1.98)(83,-2.36)(84,-2.62)(85,-2.76)(86,-2.76)(87,-2.62)(88,-2.34)(89,-1.93)(90,-1.41)(91,-0.77)(92,-0.05)(93,0.74)(94,1.57)(95,2.44)(96,3.32)(97,4.20)};
\legend{Mode 7,Mode 8}
\end{axis}
\end{tikzpicture}
\end{document}
